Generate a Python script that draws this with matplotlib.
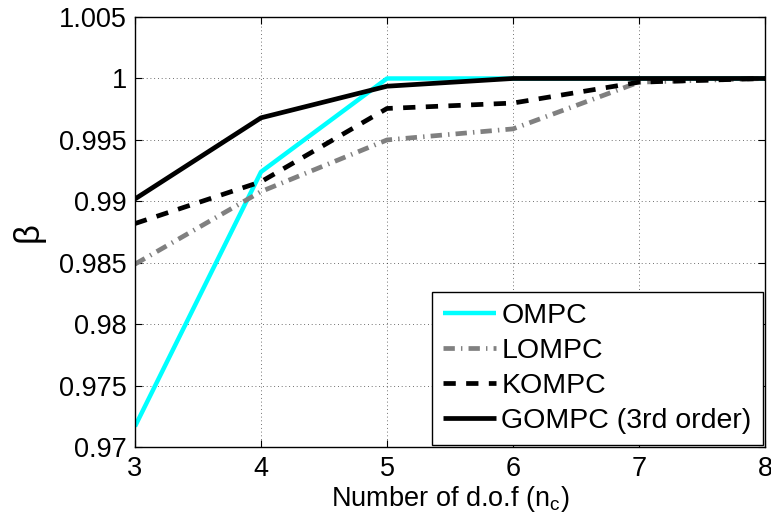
import matplotlib
matplotlib.use("Agg")
import matplotlib.pyplot as plt

plt.rcParams['font.family'] = ['Liberation Sans', 'DejaVu Sans']
plt.rcParams['mathtext.fontset'] = 'custom'
plt.rcParams['mathtext.rm'] = 'Liberation Sans'
plt.rcParams['mathtext.it'] = 'Liberation Sans'

# Data
n_c = [3, 4, 5, 6, 7, 8]
ompc = [0.9717, 0.9924, 1.0, 1.0, 1.0, 1.0]
lompc = [0.9849, 0.9908, 0.9950, 0.9959, 0.9997, 1.0]
kompc = [0.9882, 0.9916, 0.99756, 0.9980, 0.9997, 1.0]
gompc = [0.9902, 0.9968, 0.99937, 1.0, 1.0, 1.0]
labels = ['OMPC', 'LOMPC', 'KOMPC', 'GOMPC (3rd order)']
yticks = [0.97, 0.975, 0.98, 0.985, 0.99, 0.995, 1.0, 1.005]
ytick_labels = ['0.97', '0.975', '0.98', '0.985', '0.99', '0.995', '1', '1.005']
xticks = [3, 4, 5, 6, 7, 8]

fig = plt.figure(figsize=(7.71, 5.24), dpi=100)
ax = fig.add_axes([135/771, 1 - 447.3/524, 630/771, (447.3 - 17)/524])

ax.plot(n_c, ompc, color=(0, 1, 1), lw=3.2, solid_capstyle='butt', label=labels[0])
ax.plot(n_c, lompc, color=(0.5, 0.5, 0.5), lw=3.4, linestyle=(0, (2.4, 1.3, 0.3, 1.3)),
        dash_capstyle='butt', label=labels[1])
ax.plot(n_c, kompc, color='black', lw=3.4, linestyle=(0, (2.6, 2.2)),
        dash_capstyle='butt', label=labels[2])
ax.plot(n_c, gompc, color='black', lw=3.4, solid_capstyle='butt', label=labels[3])

ax.set_xlim(3, 8)
ax.set_ylim(0.97, 1.005)
ax.set_xticks(xticks)
ax.set_xticklabels([str(x) for x in xticks])
ax.set_yticks(yticks)
ax.set_yticklabels(ytick_labels)
ax.tick_params(direction='in', length=5, width=0.8, labelsize=19.5,
               top=True, right=True, pad=6)
ax.grid(True, color='black', linestyle=(0, (1, 3.5)), linewidth=0.6, alpha=0.75)
for s in ax.spines.values():
    s.set_linewidth(1.0)

ax.set_xlabel(r'Number of d.o.f (n$_\mathregular{c}$)', fontsize=19.5, labelpad=2)
ax.set_ylabel('β', fontsize=25, labelpad=10)

leg = ax.legend(loc='lower right', bbox_to_anchor=(0.997, 0.005), borderaxespad=0,
                fontsize=20.5, frameon=True, fancybox=False, framealpha=1,
                edgecolor='black', handlelength=1.85, handletextpad=0.2,
                labelspacing=0.31, borderpad=0.4)
leg.get_frame().set_linewidth(1.0)

fig.savefig('out.png', dpi=100)
